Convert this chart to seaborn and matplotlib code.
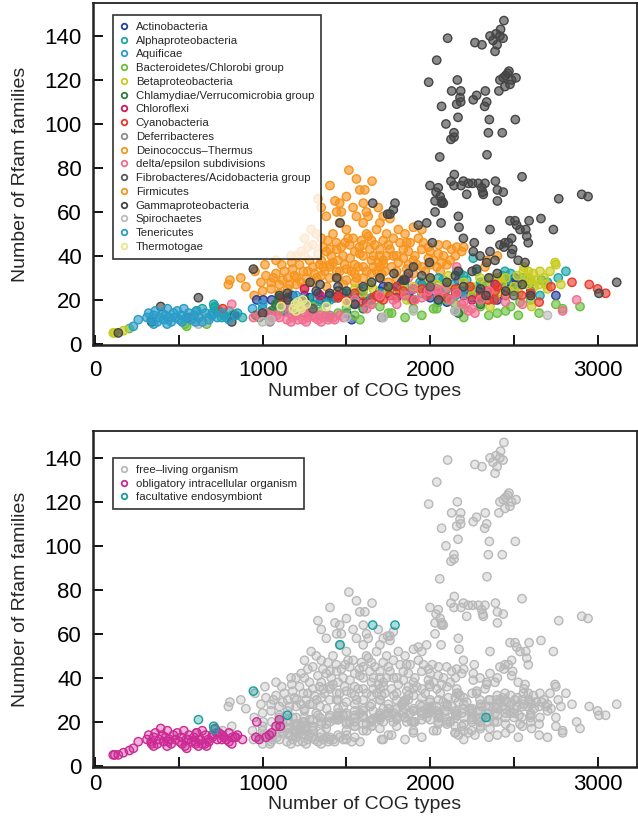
import numpy as np
import pandas as pd
import seaborn as sns
import matplotlib.pyplot as plt
from matplotlib.lines import Line2D

# points are (number of COG types, number of Rfam families)
actino_free = [(1004,20),(1054,20),(1124,15),(1080,18),(1150,21),(1200,19),(1250,22),(1300,18),(1350,20),
               (1400,22),(1450,24),(1502,14),(1532,11),(1600,22),(1650,20),(1700,24),(1750,23),(1800,26),
               (1850,22),(1900,25),(1999,25),(2048,24),(2168,29),(2287,25),(2307,27),(2506,30),(2516,27),
               (2200,22),(2400,20),(2100,19),(2350,22),(1550,18),(2450,26),(2600,24),(2750,22),
               (1100,20),(1180,22),(1230,18),(1280,21),(1330,23),(1380,19),(1430,21),(1480,23),(1520,20),
               (1580,24),(1620,19),(1680,22),(1720,26),(1780,24),(1830,28),(1880,24),(1950,27),(2000,21),
               (2250,24),(2280,21),(2480,28)]
actino_obl = [(726,15),(965,20)]

alpha_free = [(1000,16),(1100,18),(1200,19),(1300,21),(1402,20),(1500,23),(1600,25),(1700,23),(1800,22),
              (1889,20),(1939,28),(2009,27),(2048,19),(2078,29),(2100,25),(2158,33),(2178,32),(2188,24),
              (2218,29),(2247,25),(2257,39),(2277,33),(2350,27),(2432,31),(2446,33),(2456,29),(2550,30),
              (2600,28),(2655,22),(2665,29),(2764,30),(2810,33),(1250,17),(1650,21),(1950,23),(2300,28),
              (2500,24),(1150,15),(1350,19),(1450,21),(1550,22),(1750,24),(1850,26),(1980,26),(2050,30),
              (2130,27),(2200,31),(2400,28),(2480,32),(2700,28),(2150,22),(2250,21)]
alpha_obl = [(607,15),(676,12),(716,17),(756,12),(785,12),(640,16),(700,14),(740,15),(770,13),(800,15),
             (820,13),(850,14),(880,12)]
alpha_fac = [(708,18),(712,16.5)]

aquif_free = [(940,16),(1000,18),(1100,20),(1150,17),(1200,22),(1050,14)]

bacter_free = [(1100,15),(1250,14),(1300,17),(1400,12),(1581,11),(1650,18),(1750,14),(1770,14),(1850,12),
               (1950,13),(2020,16),(2039,16),(2100,20),(2300,17),(2450,15),(2526,13),(2536,19),(2650,14),
               (2894,17),(2400,14),(2200,12),(1500,16),(1200,13),(2750,18),(2600,20),(2790,16),
               (1350,15),(1450,14),(1550,13),(1700,17),(1900,16),(2150,18),(2350,13),(2480,17),(2200,16)]
bacter_obl = [(205,7),(537,9),(547,8),(666,9)]

beta_free = [(1450,23),(1550,25),(1641,27),(1700,22),(1750,24),(1800,22),(1840,25),(1860,20),(1900,26),
             (1999,29),(2039,27),(2108,31),(2150,24),(2200,28),(2250,26),(2297,30),(2297,20),(2357,30),
             (2357,17),(2397,30),(2417,30),(2400,23),(2450,30),(2476,24),(2500,26),(2520,31),(2556,33),
             (2556,28),(2580,27),(2585,33),(2600,29),(2605,17),(2615,32),(2620,26),(2650,27),(2655,33),
             (2680,30),(2700,25),(2715,33),(2745,37),(2750,36),(2780,27),(2560,35),(2590,30),
             (1600,23),(1660,25),(1950,24),(2050,22),(2100,27),(2250,22),(2330,27),(2430,27),(2530,23),
             (2630,29),(2690,27)]
beta_obl = [(109,5),(118,5),(169,6)]

chlamyd_free = [(2168,14),(1900,20),(2300,18),(1600,16)]
chlamyd_obl = [(960,13),(980,12),(1020,13),(1040,14),(1054,15),(1080,18),(1100,21),(1105,18)]

chlorofl_free = [(1250,25),(1343,22),(1452,22),(1979,24),(2154,23),(2387,27),(2250,20),(1800,21)]

cyano_free = [(762,16),(1120,20),(1500,20),(1600,19),(1661,21),(1681,22),(1700,21),(1720,20),(1760,22),
              (1840,24),(1900,20),(1980,22),(2050,23),(2100,21),(2237,26),(2300,22),(2337,24),(2347,20),
              (2383,20),(2387,24),(2400,26),(2546,22),(2721,26),(2846,28),(2949,27),(2999,25),(3047,23),
              (1450,21),(1550,23),(1800,26),(1950,25),(2150,25),(2450,22),(2600,23),(2650,19)]

deferri_free = [(1044,10),(1400,13),(1710,12),(2148,15)]

deino_free = [(1400,35),(1600,45),(1700,40),(1550,28),(1800,30)]

delta_free = [(816,18),(945,12),(980,13),(1020,14),(1060,12),(1085,13),(1145,11),(1150,17),(1180,12),
              (1200,13),(1240,11),(1250,16),(1270,12),(1300,13),(1330,11),(1362,12),(1392,11),(1422,12),
              (1482,12),(1550,20),(1621,16),(1650,18),(1700,22),(1780,20),(1800,18),(1870,30),(1900,25),
              (1909,20),(1989,24),(2009,25),(2039,25),(2088,25),(2158,23),(2158,35),(2188,18),(2228,15),
              (2247,16),(2267,14),(2300,20),(2790,15),(2874,20),(1160,14),(1220,15),(1280,14),(1340,13),
              (1170,10),(1210,11),(1260,10),(1310,12),(1350,10),(1380,13),(1430,11),(1460,13),(1100,12),
              (1050,13),(1850,22),(1950,21),(2050,22),(2120,20),(2200,19),(2350,24),(2450,19),(2550,18)]

fibro_free = [(1300,16),(2000,26),(2500,22)]

firmi_free = [(1515,79),(1653,74),(1402,72),(1580,70),(1432,65),(1601,64),(1442,60),(1330,66),(1690,62),
              (1631,49),(1740,50),(1492,46),(1577,44),(1442,43),(1402,43),(1174,37),(1114,36),(1014,36),
              (955,33),(805,29),(796,27),(1243,33),(1362,35),(1522,39),(1661,40),(1700,43),(1203,30),
              (1064,30),(1323,30),(1442,33),(1601,35),(1681,33),(1720,38),(1561,30),(1482,27),(1382,26),
              (1114,18),(1850,50),(1859,46),(1959,46),(1840,43),(1760,43),(1740,40),(1780,40),(1840,39),
              (1909,40),(1720,36),(1710,32),(2098,45),(2128,43),(2048,41),(2158,44),(2188,42),(2068,37),
              (2039,35),(2337,38),(2401,40),(2327,35),(1989,39),(1250,40),(1300,45),(1350,48),(1380,42),
              (1420,50),(1460,55),(1500,52),(1540,48),(1560,58),(1600,55),(1620,50),(1650,47),(1680,52),
              (1480,40),(1520,45),(1280,38),(1300,35),(1350,38),(1400,30),(1450,38),(1500,34),(1550,36),
              (1600,40),(1650,38),(1700,35),(1750,45),(1800,40),(1820,46),(1870,42),(1900,38),(1950,43),
              (2000,42),(2050,45),(2080,40),(2120,38),(2150,40),(2200,44),(1150,30),(1180,34),(1220,36),
              (1260,30),(1050,25),(1100,27),(1150,25),(1200,27),(1250,26),(1300,28),(1350,31),(1400,36),
              (1450,30),(1500,29),(1550,32),(1600,30),(1650,32),(1700,30),(1750,28),(1800,33),(1850,30),
              (1900,32),(1950,35),(2000,36),(1870,36),(1930,48),(1990,44),(1270,44),(1330,41),(1360,44),
              (1200,40),(1100,23),(900,26),(950,22),(1000,24),(1540,62),(1470,60),(1630,58),(1500,67),
              (1380,58),(1290,52),(1560,75),(1610,70),(1700,55),(1760,57),(1440,46),(1580,41),
              (1050,28),(1080,32),(1120,29),(1160,27),(1190,31),(1230,28),(1270,33),(1310,32),(1340,36),
              (1370,33),(1420,37),(1460,33),(1490,36),(1530,33),(1570,35),(1620,33),(1660,35),(1690,37),
              (1730,33),(1770,35),(1810,37),(1860,34),(1920,36),(1970,33),(2020,38),(2060,33),(2100,36),
              (1320,50),(1390,47),(1410,40),(1470,44),(1510,48),(1550,42),(1590,47),(1640,43),(1670,45),
              (1720,47),(1780,48),(1810,52),(1880,46),(1230,42),(1170,40),(1130,33),(1080,38),(1020,31),
              (990,28),(870,30),(1900,53),(1950,52),(1460,64),(1350,62),(1620,60),(1720,58),(1250,48)]

gamma_free = [(2440,147),(2104,139),(2267,137),(2309,136),(2357,140),(2393,141),(2420,143),(2416,140),
              (2435,139),(2375,138),(2399,136),(2387,133),(2039,129),(1991,119),(2162,120),(2128,115),
              (2182,115),(2178,112),(2158,109),(2182,110),(2068,108),(2257,111),(2277,113),(2329,115),
              (2337,110),(2325,108),(2462,123),(2436,121),(2486,120),(2512,121),(2416,120),(2446,117),
              (2476,118),(2410,115),(2450,122),(2470,124),(2166,103),(2094,100),(2353,102),(2508,102),
              (2142,96),(2142,94),(2124,93),(2347,96),(2430,96),(2057,85),(2339,86),(2144,77),(2124,74),
              (2198,74),(2228,73),(2253,73),(2287,73),(2327,73),(2389,74),(2548,76),(1999,72),(2048,71),
              (2142,72),(2184,72),(2307,71),(2035,69),(2059,67),(2069,65),(2078,64),(2029,65),(2218,68),
              (2313,69),(2317,68),(2401,70),(2436,69),(2401,65),(2767,66),(2904,68),(2942,67),(1780,61),
              (1760,59),(2068,64),(2029,60),(2168,58),(1929,54),(1979,55),(2065,55),(2172,53),(2357,52),
              (2476,56),(2506,56),(2516,54),(2536,52),(2570,52),(2590,56),(2661,57),(2735,52),(2198,48),
              (2263,46),(2013,46),(2416,45),(2446,46),(2466,46),(2440,44),(2486,48),(2492,43),(2486,41),
              (2576,49),(2585,46),(2257,42),(2357,42),(2297,40),(2337,37),(2387,38),(2525,38),(2566,37),
              (1995,37),(2168,33),(2277,34),(3113,28),(3007,23),(1870,32),(1840,29),(1784,32),(1746,59),
              (1343,27),(1442,30),(1283,28),(1100,22),(1250,20),(1500,24),(1600,26),(1700,30),(1900,35),
              (2000,30),(1550,18),(2200,26),(2350,30),(2050,20),(1000,14),(1200,16),(1400,23),(2600,22),
              (1150,20),(1320,24),(1450,26),(1650,28),(1750,26),(1850,29),(1950,31),(2100,28),(2150,31),
              (2250,33),(2400,32),(2300,25),(2450,24),(2550,27)]
gamma_obl = [(139,5),(338,10),(392,17),(557,12),(816,10),(835,13)]
gamma_fac = [(617,21),(945,34),(1148,23),(1462,55),(1657,64),(1790,64),(2333,22)]

spiro_free = [(1000,10),(1050,11),(1500,12),(1720,12),(1900,15),(2150,15),(2700,13)]
spiro_obl = [(437,11),(600,11),(617,9),(630,12),(656,10)]

teneric_obl = [(229,8),(258,11),(310,12),(320,14),(335,11),(350,13),(350,9),(360,15),(372,10),(385,12),
               (400,14),(410,11),(420,13),(430,9),(432,16),(445,12),(455,10),(468,14),(480,12),(490,15),
               (505,11),(515,13),(520,10),(530,16),(545,12),(560,14),(575,11),(590,13),(600,10),(605,15),
               (620,12),(640,10),(660,14),(680,11),(700,13),(730,12),(760,14),(800,11),(840,13)]

thermot_free = [(1110,17),(1183,16),(1195,18),(1200,15),(1210,19),(1225,17),(1230,16),(1240,20),(1260,18),
                (1380,17),(1500,19)]

phyla = ["Actinobacteria", "Alphaproteobacteria", "Aquificae", "Bacteroidetes/Chlorobi group",
         "Betaproteobacteria", "Chlamydiae/Verrucomicrobia group", "Chloroflexi", "Cyanobacteria",
         "Deferribacteres", "Deinococcus\u2013Thermus", "delta/epsilon subdivisions",
         "Fibrobacteres/Acidobacteria group", "Firmicutes", "Gammaproteobacteria", "Spirochaetes",
         "Tenericutes", "Thermotogae"]
phylum_colors = ["#23409a", "#1aa6a6", "#2b9bd0", "#6abf3f", "#c9cc1e", "#2f7d3a", "#d4185e", "#e8392c",
                 "#8e8e8e", "#f39a1e", "#f26d8f", "#5a5a5a", "#f7941d", "#454545", "#bbbbbb", "#2a9cc8",
                 "#e6e68c"]

# (free-living, obligatory intracellular, facultative endosymbiont) per phylum
groups = [(actino_free, actino_obl, []), (alpha_free, alpha_obl, alpha_fac), (aquif_free, [], []),
          (bacter_free, bacter_obl, []), (beta_free, beta_obl, []), (chlamyd_free, chlamyd_obl, []),
          (chlorofl_free, [], []), (cyano_free, [], []), (deferri_free, [], []), (deino_free, [], []),
          (delta_free, [], []), (fibro_free, [], []), (firmi_free, [], []),
          (gamma_free, gamma_obl, gamma_fac), (spiro_free, spiro_obl, []), ([], teneric_obl, []),
          (thermot_free, [], [])]

life_labels = ["free\u2013living organism", "obligatory intracellular organism", "facultative endosymbiont"]
life_colors = ["#b8b8b8", "#cc2a94", "#1a9e9e"]

rows = []
for name, grp in zip(phyla, groups):
    for life, pts in zip(life_labels, grp):
        for cog, rfam in pts:
            rows.append((name, life, cog, rfam))
df = pd.DataFrame(rows, columns=["phylum", "life", "cog", "rfam"])

sns.set_style("ticks")
plt.rcParams['font.family'] = ['Liberation Sans', 'DejaVu Sans']

fig = plt.figure(figsize=(6.38, 8.23), dpi=100)
ax1 = fig.add_axes([93/638, 1-345/823, 544/638, 342/823])
ax2 = fig.add_axes([93/638, 1-767/823, 544/638, 336/823])


def restyle(ax, face_alpha):
    coll = ax.collections[-1]
    fc = coll.get_facecolors().copy()
    coll.set_edgecolors(fc.copy())
    fc[:, 3] = face_alpha
    coll.set_facecolors(fc)


# top: coloured by phylum, Firmicutes drawn first
order = {p: i for i, p in enumerate(phyla)}
df_top = df.assign(k=df["phylum"].map(lambda p: -1 if p in ("Firmicutes", "Deinococcus\u2013Thermus") else order[p]))
df_top = df_top.sort_values("k", kind="stable")
sns.scatterplot(data=df_top, x="cog", y="rfam", hue="phylum", hue_order=phyla,
                palette=dict(zip(phyla, phylum_colors)), s=36, linewidth=1.0, legend=False, ax=ax1)
restyle(ax1, 0.62)

# bottom: coloured by lifestyle
df_bot = df.assign(k=df["life"].map({l: i for i, l in enumerate(life_labels)})).sort_values("k", kind="stable")
sns.scatterplot(data=df_bot, x="cog", y="rfam", hue="life", hue_order=life_labels,
                palette=dict(zip(life_labels, life_colors)), s=36, linewidth=1.0, legend=False, ax=ax2)
restyle(ax2, 0.35)

for ax, ytop, xpad in ((ax1, 155, 11), (ax2, 152.2, 5)):
    ax.set_xlim(-12, 3234)
    ax.set_ylim(-0.5, ytop)
    ax.set_xticks(range(0, 3001, 500))
    ax.set_xticklabels(["0", "", "1000", "", "2000", "", "3000"])
    ax.set_yticks(range(0, 141, 20))
    ax.tick_params(direction="in", length=7, width=1.3, labelsize=16, colors="black")
    ax.tick_params(axis="x", pad=xpad)
    ax.tick_params(axis="y", pad=8)
    for side in ("top", "right", "left", "bottom"):
        ax.spines[side].set_visible(True)
        ax.spines[side].set_color("#222222")
        ax.spines[side].set_linewidth(1.3)
    ax.spines["left"].set_linewidth(1.8)
    ax.spines["bottom"].set_linewidth(1.8)
    ax.set_xlabel("Number of COG types", fontsize=14, labelpad=1)
    ax.set_ylabel("Number of Rfam families", fontsize=14, labelpad=11)


def legend(ax, labels, colors, top_offset, height):
    handles = [Line2D([], [], marker="o", linestyle="", markersize=4, markerfacecolor="none",
                      markeredgecolor=c, markeredgewidth=1.3) for c in colors]
    leg = ax.legend(handles, labels, loc="upper left", bbox_to_anchor=(20/544, 1-top_offset/height),
                    borderaxespad=0, frameon=True, fancybox=False, fontsize=8.2,
                    handlelength=0.8, handletextpad=0.6, labelspacing=0.33, borderpad=0.6)
    leg.get_frame().set_edgecolor("black")
    leg.get_frame().set_linewidth(1.2)


legend(ax1, phyla, phylum_colors, 12, 342)
legend(ax2, life_labels, life_colors, 27, 336)

fig.savefig("out.png", dpi=100)
